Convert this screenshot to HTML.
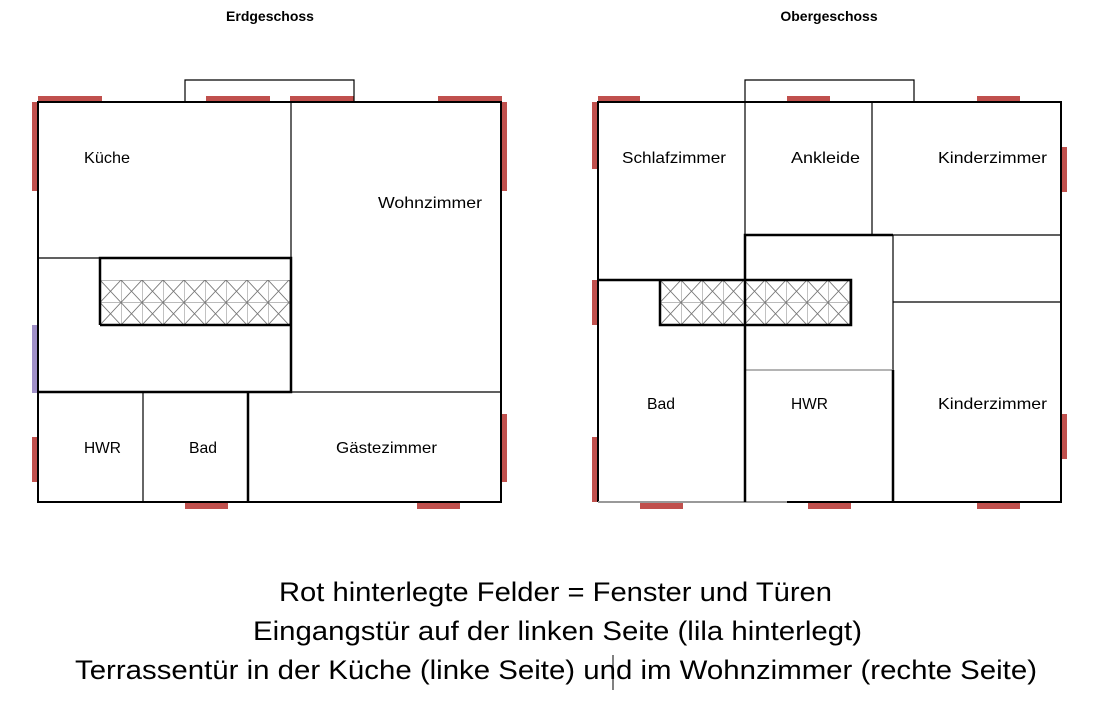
<!DOCTYPE html>
<html><head><meta charset="utf-8"><style>html,body{margin:0;padding:0;background:#fff;}svg{display:block}</style></head>
<body>
<svg width="1105" height="704" viewBox="0 0 1105 704" xmlns="http://www.w3.org/2000/svg" font-family="Liberation Sans, sans-serif">
<defs>
<pattern id="h" x="100" y="280" width="21" height="22.5" patternUnits="userSpaceOnUse">
<path d="M0 0L21 22.5M21 0L0 22.5M0 0V22.5M0 0H21" stroke="#777" stroke-width="0.9" fill="none"/>
</pattern>
<pattern id="h2" x="660" y="280" width="21" height="22.5" patternUnits="userSpaceOnUse">
<path d="M0 0L21 22.5M21 0L0 22.5M0 0V22.5M0 0H21" stroke="#777" stroke-width="0.9" fill="none"/>
</pattern>
</defs>
<text x="270" y="21" font-size="14" font-weight="bold" text-anchor="middle">Erdgeschoss</text>
<text x="829" y="21" font-size="14" font-weight="bold" text-anchor="middle">Obergeschoss</text>

<!-- LEFT PLAN -->
<g fill="#c0504d">
<rect x="38" y="96" width="64" height="6"/><rect x="206" y="96" width="64" height="6"/><rect x="290" y="96" width="64" height="6"/><rect x="438" y="96" width="64" height="6"/>
<rect x="32" y="102" width="6" height="89"/><rect x="32" y="437" width="6" height="45"/>
<rect x="501" y="102" width="6" height="89"/><rect x="501" y="414" width="6" height="68"/>
<rect x="185" y="502" width="43" height="7"/><rect x="417" y="502" width="43" height="7"/>
</g>
<rect x="32" y="325" width="6" height="68" fill="#9f8fc7"/>
<rect x="100" y="280" width="191" height="45" fill="url(#h)"/>
<g fill="none" stroke="#000">
<path d="M185 102V80H354V102" stroke-width="1.2"/>
<rect x="38" y="102" width="463" height="400" stroke-width="2"/>
<path d="M291 102V258M38 258H100M291 392H501" stroke-width="1.2"/>
<path d="M100 325V258H291V392H38M100 325H291M248 392V502" stroke-width="2.5"/>
<path d="M143 392V502" stroke-width="1.2"/>
</g>
<g font-size="16">
<text x="84" y="163" textLength="46" lengthAdjust="spacingAndGlyphs">Küche</text>
<text x="378" y="208" textLength="104" lengthAdjust="spacingAndGlyphs">Wohnzimmer</text>
<text x="84" y="453" textLength="37" lengthAdjust="spacingAndGlyphs">HWR</text>
<text x="189" y="453" textLength="28" lengthAdjust="spacingAndGlyphs">Bad</text>
<text x="336" y="453" textLength="101" lengthAdjust="spacingAndGlyphs">Gästezimmer</text>
</g>

<!-- RIGHT PLAN -->
<g fill="#c0504d">
<rect x="598" y="96" width="42" height="6"/><rect x="787" y="96" width="43" height="6"/><rect x="977" y="96" width="43" height="6"/>
<rect x="592" y="102" width="6" height="67"/><rect x="592" y="280" width="6" height="45"/><rect x="592" y="437" width="6" height="65"/>
<rect x="1061" y="147" width="6" height="45"/><rect x="1061" y="414" width="6" height="45"/>
<rect x="640" y="502" width="43" height="7"/><rect x="808" y="502" width="43" height="7"/><rect x="977" y="502" width="43" height="7"/>
</g>
<rect x="660" y="280" width="191" height="45" fill="url(#h2)"/>
<g fill="none" stroke="#000">
<path d="M745 102V80H914V102" stroke-width="1.2"/>
<path d="M787 502H1061V102H598V502" stroke-width="2"/>
<path d="M598 502H787" stroke="#999" stroke-width="2"/>
<path d="M745 102V235M872 102V235M872 235H1061M893 235V370M893 302H1061" stroke-width="1.2"/>
<path d="M745 370H893" stroke="#888" stroke-width="1.2"/>
<path d="M745 502V235H893M893 370V502M598 280H851V325H660V280" stroke-width="2.5"/>
</g>
<g font-size="16">
<text x="622" y="163" textLength="104" lengthAdjust="spacingAndGlyphs">Schlafzimmer</text>
<text x="791" y="163" textLength="69" lengthAdjust="spacingAndGlyphs">Ankleide</text>
<text x="938" y="163" textLength="109" lengthAdjust="spacingAndGlyphs">Kinderzimmer</text>
<text x="647" y="409" textLength="28" lengthAdjust="spacingAndGlyphs">Bad</text>
<text x="791" y="409" textLength="37" lengthAdjust="spacingAndGlyphs">HWR</text>
<text x="938" y="409" textLength="109" lengthAdjust="spacingAndGlyphs">Kinderzimmer</text>
</g>

<g font-size="27">
<text x="279" y="601" textLength="553" lengthAdjust="spacingAndGlyphs">Rot hinterlegte Felder = Fenster und Türen</text>
<text x="253" y="640" textLength="609" lengthAdjust="spacingAndGlyphs">Eingangstür auf der linken Seite (lila hinterlegt)</text>
<text x="75" y="679" textLength="962" lengthAdjust="spacingAndGlyphs">Terrassentür in der Küche (linke Seite) und im Wohnzimmer (rechte Seite)</text>
</g>
<path d="M613 655V690" stroke="#000" stroke-width="1"/>
</svg>
</body></html>
